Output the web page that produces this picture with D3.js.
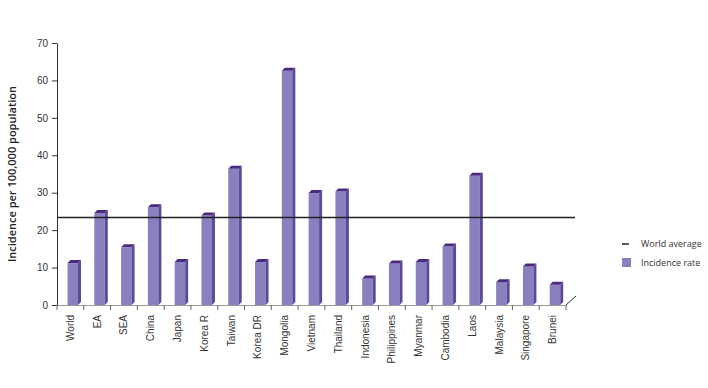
<!DOCTYPE html>
<html>
<head>
<meta charset="utf-8">
<script src="https://cdn.jsdelivr.net/npm/d3@7"></script>
<style>
  body { margin: 0; background: #fff; }
  svg { font-family: "Open Sans", "Noto Sans", sans-serif; }
</style>
</head>
<body>
<svg id="chart"></svg>
<script>
// Data
const categories = ['World', 'EA', 'SEA', 'China', 'Japan', 'Korea R', 'Taiwan', 'Korea DR', 'Mongolia',
  'Vietnam', 'Thailand', 'Indonesia', 'Philippines', 'Myanmar', 'Cambodia', 'Laos', 'Malaysia', 'Singapore', 'Brunei'];
const incidence = [11.2, 24.6, 15.4, 26.1, 11.5, 23.9, 36.4, 11.5, 62.6,
  29.9, 30.3, 7.1, 11.1, 11.5, 15.6, 34.5, 6.1, 10.3, 5.4];
const worldAverage = 23.4;
const yTicks = [0, 10, 20, 30, 40, 50, 60, 70];

const totalWidth = 708;
const totalHeight = 388;
const plot = { left: 57, right: 566, top: 43, bottom: 305 };

const frontColor = '#8b80bf';
const sideColor = '#5f479a';
const topColor = '#4a2a7e';
const depth = 3;

const svg = d3.select('#chart')
  .attr('width', totalWidth)
  .attr('height', totalHeight);

const x = d3.scaleBand()
  .domain(categories)
  .range([plot.left, plot.right]);

const y = d3.scaleLinear()
  .domain([0, 70])
  .range([plot.bottom, plot.top]);

// 3D-ish bars: front face, side face, top face
const barW = 10.5;
const barOffset = 10.5;
const bars = svg.append('g').selectAll('g')
  .data(categories.map((c, i) => ({ name: c, value: incidence[i] })))
  .join('g');

bars.append('rect')
  .attr('x', d => x(d.name) + barOffset)
  .attr('y', d => y(d.value))
  .attr('width', barW)
  .attr('height', d => y(0) - y(d.value))
  .attr('fill', frontColor);

bars.append('path')
  .attr('d', d => {
    const x0 = x(d.name) + barOffset + barW;
    return `M${x0},${y(d.value)} L${x0 + depth},${y(d.value) - depth} L${x0 + depth},${y(0) - depth} L${x0},${y(0)} Z`;
  })
  .attr('fill', sideColor);

bars.append('path')
  .attr('d', d => {
    const x0 = x(d.name) + barOffset;
    const yt = y(d.value);
    return `M${x0},${yt} L${x0 + depth},${yt - depth} L${x0 + barW + depth},${yt - depth} L${x0 + barW},${yt} Z`;
  })
  .attr('fill', topColor);

// y axis
const yAxis = svg.append('g')
  .attr('transform', `translate(${plot.left},0)`)
  .call(d3.axisLeft(y).tickValues(yTicks).tickSize(5).tickSizeOuter(0));
yAxis.select('.domain').attr('stroke', '#333');
yAxis.selectAll('.tick line').attr('stroke', '#333');
yAxis.selectAll('.tick text').attr('fill', '#333').attr('font-size', 10).attr('x', -9);

// x axis
const xAxis = svg.append('g')
  .attr('transform', `translate(0,${plot.bottom})`)
  .call(d3.axisBottom(x).tickSize(5).tickSizeOuter(0));
xAxis.select('.domain').attr('stroke', '#999');
xAxis.selectAll('.tick line')
  .attr('stroke', '#666')
  .attr('transform', `translate(${x.bandwidth() / 2},0)`);
svg.append('line')
  .attr('x1', plot.left).attr('x2', plot.left)
  .attr('y1', plot.bottom).attr('y2', plot.bottom + 5)
  .attr('stroke', '#666');
xAxis.selectAll('.tick text')
  .attr('fill', '#333')
  .attr('font-size', 10)
  .attr('text-anchor', 'end')
  .attr('transform', 'rotate(-90)')
  .attr('x', -10)
  .attr('y', 0)
  .attr('dy', '0.35em');

// floor edge
svg.append('line')
  .attr('x1', plot.right).attr('y1', plot.bottom)
  .attr('x2', plot.right + 10).attr('y2', plot.bottom - 9)
  .attr('stroke', '#333');

// world average line
svg.append('line')
  .attr('x1', plot.left).attr('x2', 575)
  .attr('y1', y(worldAverage)).attr('y2', y(worldAverage))
  .attr('stroke', '#222')
  .attr('stroke-width', 1.5);

// y label
svg.append('text')
  .attr('transform', `translate(16,${(plot.top + plot.bottom) / 2}) rotate(-90)`)
  .attr('text-anchor', 'middle')
  .attr('font-size', 11)
  .attr('font-weight', 600)
  .attr('fill', '#222')
  .text('Incidence per 100,000 population');

// legend
const legend = svg.append('g').attr('transform', 'translate(622,244)');
legend.append('line')
  .attr('x1', 0).attr('x2', 7).attr('y1', 0).attr('y2', 0)
  .attr('stroke', '#222').attr('stroke-width', 1.5);
legend.append('text')
  .attr('x', 19).attr('y', 0).attr('dy', '0.35em')
  .attr('font-size', 9).attr('fill', '#333')
  .text('World average');
legend.append('rect')
  .attr('x', 0).attr('y', 14).attr('width', 9).attr('height', 9)
  .attr('fill', frontColor);
legend.append('text')
  .attr('x', 19).attr('y', 19).attr('dy', '0.35em')
  .attr('font-size', 9).attr('fill', '#333')
  .text('Incidence rate');
</script>
</body>
</html>
